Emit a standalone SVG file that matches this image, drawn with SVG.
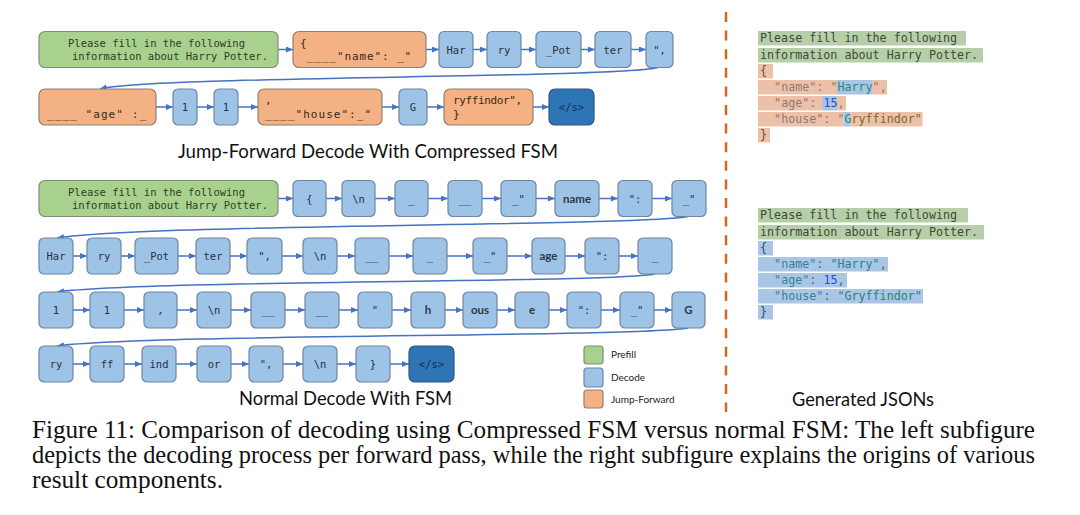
<svg xmlns="http://www.w3.org/2000/svg" width="1080" height="515" viewBox="0 0 1080 515">
<defs>
<marker id="ah" markerUnits="userSpaceOnUse" markerWidth="7" markerHeight="6" refX="7" refY="3" orient="auto">
<path d="M0,0 L7,3 L0,6 z" fill="#4472C4"/>
</marker>
<style>
.b{fill:#9DC3E6;stroke:#6E85A3;stroke-width:1.2}
.g{fill:#A9D18E;stroke:#7F8F76;stroke-width:1.2}
.o{fill:#F4B183;stroke:#8F8079;stroke-width:1.2}
.d{fill:#2E75B6;stroke:#2F5580;stroke-width:1.2}
.t{font-family:"DejaVu Sans Mono",monospace;font-size:10.5px;fill:#27313D;text-anchor:middle}
.ts{font-family:Lato,"Open Sans",sans-serif;font-size:11.5px;font-weight:bold;fill:#2E3845;text-anchor:middle}
.tg{font-family:"DejaVu Sans Mono",monospace;font-size:10.5px;fill:#2E3D22}
.to{font-family:"DejaVu Sans Mono",monospace;font-size:11px;fill:#33281F}
.td{font-family:"DejaVu Sans Mono",monospace;font-size:10.5px;fill:#15294A;text-anchor:middle}
.c{stroke:#4472C4;stroke-width:1.5;fill:none;marker-end:url(#ah)}
.title{font-family:Lato,"Open Sans",sans-serif;font-size:19px;fill:#111}
.lg{font-family:Lato,"Open Sans",sans-serif;font-size:10px;fill:#222}
.j{font-family:"DejaVu Sans Mono",monospace;font-size:11.7px}
.cap{font-family:"Liberation Serif","Times New Roman",serif;font-size:24.5px;fill:#111}
</style>
</defs>
<rect width="1080" height="515" fill="#fff"/>

<g id="connectors">
<line class="c" x1="278" y1="49.5" x2="293" y2="49.5"/>
<line class="c" x1="426" y1="49.5" x2="439" y2="49.5"/>
<line class="c" x1="473" y1="49.5" x2="487" y2="49.5"/>
<line class="c" x1="521" y1="49.5" x2="536" y2="49.5"/>
<line class="c" x1="581" y1="49.5" x2="595" y2="49.5"/>
<line class="c" x1="631" y1="49.5" x2="646" y2="49.5"/>
<path class="c" d="M658,67.5 C620,78 150,76 100,89"/>
<line class="c" x1="156" y1="107" x2="173" y2="107"/>
<line class="c" x1="197" y1="107" x2="214" y2="107"/>
<line class="c" x1="238" y1="107" x2="258" y2="107"/>
<line class="c" x1="382" y1="107" x2="399" y2="107"/>
<line class="c" x1="427" y1="107" x2="444" y2="107"/>
<line class="c" x1="533" y1="107" x2="549" y2="107"/>
<line class="c" x1="278" y1="198.5" x2="293" y2="198.5"/>
<line class="c" x1="326" y1="198.5" x2="342" y2="198.5"/>
<line class="c" x1="375" y1="198.5" x2="395" y2="198.5"/>
<line class="c" x1="428" y1="198.5" x2="448" y2="198.5"/>
<line class="c" x1="482" y1="198.5" x2="501" y2="198.5"/>
<line class="c" x1="536" y1="198.5" x2="555" y2="198.5"/>
<line class="c" x1="599" y1="198.5" x2="618" y2="198.5"/>
<line class="c" x1="652" y1="198.5" x2="672" y2="198.5"/>
<path class="c" d="M688,216.5 C640,226 150,224 57,238"/>
<line class="c" x1="73" y1="256" x2="87" y2="256"/>
<line class="c" x1="121" y1="256" x2="135" y2="256"/>
<line class="c" x1="178" y1="256" x2="196" y2="256"/>
<line class="c" x1="230" y1="256" x2="247" y2="256"/>
<line class="c" x1="282" y1="256" x2="303" y2="256"/>
<line class="c" x1="337" y1="256" x2="355" y2="256"/>
<line class="c" x1="389" y1="256" x2="413" y2="256"/>
<line class="c" x1="447" y1="256" x2="473" y2="256"/>
<line class="c" x1="507" y1="256" x2="532" y2="256"/>
<line class="c" x1="565" y1="256" x2="585" y2="256"/>
<line class="c" x1="619" y1="256" x2="638" y2="256"/>
<path class="c" d="M655,274 C610,283 150,280 57,292"/>
<line class="c" x1="73" y1="310" x2="90" y2="310"/>
<line class="c" x1="124" y1="310" x2="144" y2="310"/>
<line class="c" x1="177" y1="310" x2="197" y2="310"/>
<line class="c" x1="231" y1="310" x2="251" y2="310"/>
<line class="c" x1="285" y1="310" x2="305" y2="310"/>
<line class="c" x1="339" y1="310" x2="358" y2="310"/>
<line class="c" x1="392" y1="310" x2="411" y2="310"/>
<line class="c" x1="445" y1="310" x2="463" y2="310"/>
<line class="c" x1="497" y1="310" x2="515" y2="310"/>
<line class="c" x1="549" y1="310" x2="567" y2="310"/>
<line class="c" x1="601" y1="310" x2="620" y2="310"/>
<line class="c" x1="654" y1="310" x2="672" y2="310"/>
<path class="c" d="M688,328 C640,337 150,334 57,346"/>
<line class="c" x1="73" y1="364" x2="90" y2="364"/>
<line class="c" x1="124" y1="364" x2="142" y2="364"/>
<line class="c" x1="176" y1="364" x2="197" y2="364"/>
<line class="c" x1="231" y1="364" x2="249" y2="364"/>
<line class="c" x1="283" y1="364" x2="303" y2="364"/>
<line class="c" x1="337" y1="364" x2="356" y2="364"/>
<line class="c" x1="390" y1="364" x2="409" y2="364"/>
</g>

<g id="jf-prefill"><rect class="g" x="39" y="31.5" width="239" height="36" rx="6"/>
<text class="tg"><tspan x="68" y="47">Please fill in the following</tspan><tspan x="72" y="60">information about Harry Potter.</tspan></text></g>
<g id="jf-name"><rect class="o" x="293" y="31.5" width="133" height="36" rx="6"/>
<text class="to"><tspan x="300" y="47">{</tspan><tspan x="307" y="60" textLength="104" lengthAdjust="spacing">____"name": _"</tspan></text></g>
<g id="jf-har"><rect class="b" x="439" y="31.5" width="34" height="36" rx="5"/><text class="t" x="456" y="53.5">Har</text></g>
<g id="jf-ry"><rect class="b" x="487" y="31.5" width="34" height="36" rx="5"/><text class="t" x="504" y="53.5">ry</text></g>
<g id="jf-pot"><rect class="b" x="536" y="31.5" width="45" height="36" rx="5"/><text class="t" x="558.5" y="53.5">_Pot</text></g>
<g id="jf-ter"><rect class="b" x="595" y="31.5" width="36" height="36" rx="5"/><text class="t" x="613" y="53.5">ter</text></g>
<g id="jf-qc"><rect class="b" x="646" y="31.5" width="27" height="36" rx="5"/><text class="t" x="659.5" y="53.5">",</text></g>

<g id="jf-age"><rect class="o" x="39" y="89" width="117" height="36" rx="6"/>
<text class="to" x="47" y="118" textLength="99" lengthAdjust="spacing">____ "age" :_</text></g>
<g id="jf-1a"><rect class="b" x="173" y="89" width="24" height="36" rx="5"/><text class="t" x="185" y="111">1</text></g>
<g id="jf-1b"><rect class="b" x="214" y="89" width="24" height="36" rx="5"/><text class="t" x="226" y="111">1</text></g>
<g id="jf-house"><rect class="o" x="258" y="89" width="124" height="36" rx="6"/>
<text class="to"><tspan x="265" y="104">,</tspan><tspan x="265" y="118" textLength="106" lengthAdjust="spacing">____"house":_"</tspan></text></g>
<g id="jf-g"><rect class="b" x="399" y="89" width="28" height="36" rx="5"/><text class="t" x="413" y="111">G</text></g>
<g id="jf-ryff"><rect class="o" x="444" y="89" width="89" height="36" rx="6"/>
<text class="to"><tspan x="453" y="104" textLength="69" lengthAdjust="spacing">ryffindor",</tspan><tspan x="453" y="118">}</tspan></text></g>
<g id="jf-eos"><rect class="d" x="549" y="89" width="45" height="36" rx="6"/><text class="td" x="571.5" y="111">&lt;/s&gt;</text></g>

<text class="title" x="178" y="158" textLength="380" lengthAdjust="spacingAndGlyphs">Jump-Forward Decode With Compressed FSM</text>

<g id="n-prefill"><rect class="g" x="39" y="180.5" width="239" height="36" rx="6"/>
<text class="tg"><tspan x="68" y="196">Please fill in the following</tspan><tspan x="72" y="209">information about Harry Potter.</tspan></text></g>
<g id="n1-brace"><rect class="b" x="293" y="180.5" width="33" height="36" rx="5"/><text class="t" x="309.5" y="202.5">{</text></g>
<g id="n1-nl"><rect class="b" x="342" y="180.5" width="33" height="36" rx="5"/><text class="t" x="358.5" y="202.5">\n</text></g>
<g id="n1-u1"><rect class="b" x="395" y="180.5" width="33" height="36" rx="5"/><text class="t" x="411.5" y="202.5">_</text></g>
<g id="n1-u2"><rect class="b" x="448" y="180.5" width="34" height="36" rx="5"/><text class="t" x="465" y="202.5">__</text></g>
<g id="n1-uq"><rect class="b" x="501" y="180.5" width="35" height="36" rx="5"/><text class="t" x="518.5" y="202.5">_"</text></g>
<g id="n1-name"><rect class="b" x="555" y="180.5" width="44" height="36" rx="5"/><text class="ts" x="577" y="202.5">name</text></g>
<g id="n1-qc"><rect class="b" x="618" y="180.5" width="34" height="36" rx="5"/><text class="t" x="635" y="202.5">":</text></g>
<g id="n1-uq2"><rect class="b" x="672" y="180.5" width="34" height="36" rx="5"/><text class="t" x="689" y="202.5">_"</text></g>

<g id="n2-har"><rect class="b" x="39" y="238" width="34" height="36" rx="5"/><text class="t" x="56" y="260">Har</text></g>
<g id="n2-ry"><rect class="b" x="87" y="238" width="34" height="36" rx="5"/><text class="t" x="104" y="260">ry</text></g>
<g id="n2-pot"><rect class="b" x="135" y="238" width="43" height="36" rx="5"/><text class="t" x="156.5" y="260">_Pot</text></g>
<g id="n2-ter"><rect class="b" x="196" y="238" width="34" height="36" rx="5"/><text class="t" x="213" y="260">ter</text></g>
<g id="n2-qc"><rect class="b" x="247" y="238" width="35" height="36" rx="5"/><text class="t" x="264.5" y="260">",</text></g>
<g id="n2-nl"><rect class="b" x="303" y="238" width="34" height="36" rx="5"/><text class="t" x="320" y="260">\n</text></g>
<g id="n2-u2"><rect class="b" x="355" y="238" width="34" height="36" rx="5"/><text class="t" x="372" y="260">__</text></g>
<g id="n2-u1"><rect class="b" x="413" y="238" width="34" height="36" rx="5"/><text class="t" x="430" y="260">_</text></g>
<g id="n2-uq"><rect class="b" x="473" y="238" width="34" height="36" rx="5"/><text class="t" x="490" y="260">_"</text></g>
<g id="n2-age"><rect class="b" x="532" y="238" width="33" height="36" rx="5"/><text class="ts" x="548.5" y="260">age</text></g>
<g id="n2-qc2"><rect class="b" x="585" y="238" width="34" height="36" rx="5"/><text class="t" x="602" y="260">":</text></g>
<g id="n2-u"><rect class="b" x="638" y="238" width="34" height="36" rx="5"/><text class="t" x="655" y="260">_</text></g>

<g id="n3-1a"><rect class="b" x="39" y="292" width="34" height="36" rx="5"/><text class="t" x="56" y="314">1</text></g>
<g id="n3-1b"><rect class="b" x="90" y="292" width="34" height="36" rx="5"/><text class="t" x="107" y="314">1</text></g>
<g id="n3-comma"><rect class="b" x="144" y="292" width="33" height="36" rx="5"/><text class="t" x="160.5" y="314">,</text></g>
<g id="n3-nl"><rect class="b" x="197" y="292" width="34" height="36" rx="5"/><text class="t" x="214" y="314">\n</text></g>
<g id="n3-u2a"><rect class="b" x="251" y="292" width="34" height="36" rx="5"/><text class="t" x="268" y="314">__</text></g>
<g id="n3-u2b"><rect class="b" x="305" y="292" width="34" height="36" rx="5"/><text class="t" x="322" y="314">__</text></g>
<g id="n3-q"><rect class="b" x="358" y="292" width="34" height="36" rx="5"/><text class="t" x="375" y="314">"</text></g>
<g id="n3-h"><rect class="b" x="411" y="292" width="34" height="36" rx="5"/><text class="ts" x="428" y="314">h</text></g>
<g id="n3-ous"><rect class="b" x="463" y="292" width="34" height="36" rx="5"/><text class="ts" x="480" y="314">ous</text></g>
<g id="n3-e"><rect class="b" x="515" y="292" width="34" height="36" rx="5"/><text class="ts" x="532" y="314">e</text></g>
<g id="n3-qc"><rect class="b" x="567" y="292" width="34" height="36" rx="5"/><text class="t" x="584" y="314">":</text></g>
<g id="n3-uq"><rect class="b" x="620" y="292" width="34" height="36" rx="5"/><text class="t" x="637" y="314">_"</text></g>
<g id="n3-g"><rect class="b" x="672" y="292" width="33" height="36" rx="5"/><text class="ts" x="688.5" y="314">G</text></g>

<g id="n4-ry"><rect class="b" x="39" y="346" width="34" height="36" rx="5"/><text class="t" x="56" y="368">ry</text></g>
<g id="n4-ff"><rect class="b" x="90" y="346" width="34" height="36" rx="5"/><text class="t" x="107" y="368">ff</text></g>
<g id="n4-ind"><rect class="b" x="142" y="346" width="34" height="36" rx="5"/><text class="t" x="159" y="368">ind</text></g>
<g id="n4-or"><rect class="b" x="197" y="346" width="34" height="36" rx="5"/><text class="t" x="214" y="368">or</text></g>
<g id="n4-qc"><rect class="b" x="249" y="346" width="34" height="36" rx="5"/><text class="t" x="266" y="368">",</text></g>
<g id="n4-nl"><rect class="b" x="303" y="346" width="34" height="36" rx="5"/><text class="t" x="320" y="368">\n</text></g>
<g id="n4-brace"><rect class="b" x="356" y="346" width="34" height="36" rx="5"/><text class="t" x="373" y="368">}</text></g>
<g id="n4-eos"><rect class="d" x="409" y="346" width="45" height="36" rx="6"/><text class="td" x="431.5" y="368">&lt;/s&gt;</text></g>

<text class="title" x="239" y="405" textLength="213" lengthAdjust="spacingAndGlyphs">Normal Decode With FSM</text>

<g id="legend">
<rect class="g" x="584" y="346" width="19" height="18" rx="3"/><text class="lg" x="611" y="358">Prefill</text>
<rect class="b" x="584" y="368" width="19" height="19" rx="3"/><text class="lg" x="611" y="381">Decode</text>
<rect class="o" x="584" y="390" width="19" height="18" rx="3"/><text class="lg" x="611" y="403">Jump-Forward</text>
</g>

<line x1="726" y1="12" x2="726" y2="412" stroke="#D2691E" stroke-width="2.5" stroke-dasharray="10 8.6"/>

<g id="json1">
<rect x="758" y="31" width="208" height="14.5" fill="#B7CFA8"/>
<rect x="758" y="48" width="225" height="14.5" fill="#B7CFA8"/>
<rect x="758" y="64" width="15" height="14.5" fill="#EDC1A9"/>
<rect x="758" y="80" width="79" height="14.5" fill="#EDC1A9"/>
<rect x="837" y="80" width="35" height="14.5" fill="#A9C5E4"/>
<rect x="872" y="80" width="15" height="14.5" fill="#EDC1A9"/>
<rect x="758" y="96" width="64" height="14.5" fill="#EDC1A9"/>
<rect x="822" y="96" width="15" height="14.5" fill="#A9C5E4"/>
<rect x="837" y="96" width="9" height="14.5" fill="#EDC1A9"/>
<rect x="758" y="112" width="85.5" height="14.5" fill="#EDC1A9"/>
<rect x="843.5" y="112" width="7" height="14.5" fill="#A9C5E4"/>
<rect x="850.5" y="112" width="72" height="14.5" fill="#EDC1A9"/>
<rect x="758" y="128" width="12" height="14.5" fill="#EDC1A9"/>
<text class="j" fill="#3C4A38" x="760" y="42">Please fill in the following</text>
<text class="j" fill="#3C4A38" x="760" y="59">information about Harry Potter.</text>
<text class="j" fill="#6B4A3A" x="760" y="75">{</text>
<text class="j"><tspan x="774.1" y="91" fill="#8E7A70">"name": "</tspan><tspan x="837.4" y="91" fill="#2F8585">Harry</tspan><tspan x="872.6" y="91" fill="#8E7A70">",</tspan></text>
<text class="j"><tspan x="774.1" y="107" fill="#8E7A70">"age": </tspan><tspan x="823.4" y="107" fill="#2B4BD0">15</tspan><tspan x="837.4" y="107" fill="#8E7A70">,</tspan></text>
<text class="j"><tspan x="774.1" y="123" fill="#8E7A70">"house": "</tspan><tspan x="844.5" y="123" fill="#2F8585">G</tspan><tspan x="851.5" y="123" fill="#7A6A24">ryffindor"</tspan></text>
<text class="j" fill="#6B4A3A" x="760" y="139">}</text>
</g>

<g id="json2">
<rect x="758" y="208" width="210" height="14.5" fill="#B7CFA8"/>
<rect x="758" y="225" width="226" height="14.5" fill="#B7CFA8"/>
<rect x="758" y="241" width="15" height="14.5" fill="#A9C6E6"/>
<rect x="758" y="257" width="130" height="14.5" fill="#A9C6E6"/>
<rect x="758" y="273" width="89" height="14.5" fill="#A9C6E6"/>
<rect x="758" y="289" width="165" height="14.5" fill="#A9C6E6"/>
<rect x="758" y="305" width="15" height="14.5" fill="#A9C6E6"/>
<text class="j" fill="#3C4A38" x="760" y="219">Please fill in the following</text>
<text class="j" fill="#3C4A38" x="760" y="236">information about Harry Potter.</text>
<text class="j" fill="#3A4A60" x="760" y="252">{</text>
<text class="j"><tspan x="774.1" y="268" fill="#3C7E96">"name"</tspan><tspan x="816.3" y="268" fill="#56626C">:</tspan><tspan x="830.4" y="268" fill="#2F8080">"Harry"</tspan><tspan x="879.7" y="268" fill="#56626C">,</tspan></text>
<text class="j"><tspan x="774.1" y="284" fill="#3C7E96">"age"</tspan><tspan x="809.3" y="284" fill="#56626C">:</tspan><tspan x="823.4" y="284" fill="#2B4BD0">15</tspan><tspan x="837.4" y="284" fill="#56626C">,</tspan></text>
<text class="j"><tspan x="774.1" y="300" fill="#3C7E96">"house"</tspan><tspan x="823.4" y="300" fill="#56626C">:</tspan><tspan x="837.4" y="300" fill="#2F7F78">"Gryffindor"</tspan></text>
<text class="j" fill="#3A4A60" x="760" y="316">}</text>
</g>

<text class="title" x="792" y="406" textLength="142" lengthAdjust="spacingAndGlyphs">Generated JSONs</text>

<g id="caption">
<text class="cap" x="32" y="438" textLength="1003" lengthAdjust="spacingAndGlyphs">Figure 11: Comparison of decoding using Compressed FSM versus normal FSM: The left subfigure</text>
<text class="cap" x="32" y="463" textLength="1003" lengthAdjust="spacingAndGlyphs">depicts the decoding process per forward pass, while the right subfigure explains the origins of various</text>
<text class="cap" x="32" y="488" textLength="191" lengthAdjust="spacingAndGlyphs">result components.</text>
</g>
</svg>
